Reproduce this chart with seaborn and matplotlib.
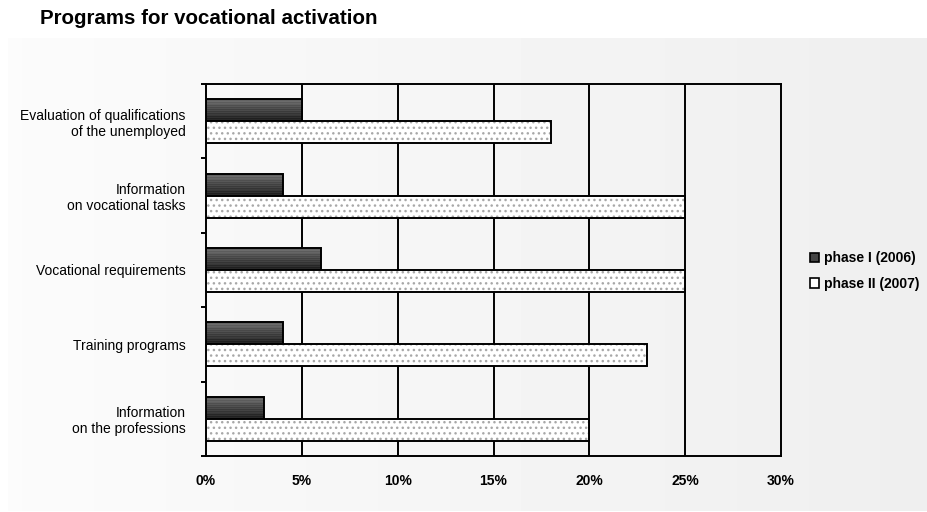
import numpy as np
import pandas as pd
import matplotlib
matplotlib.use("Agg")
import matplotlib.pyplot as plt
from matplotlib.patches import Patch, Rectangle
from matplotlib.ticker import FixedLocator
import seaborn as sns

# ---- data -------------------------------------------------------------
categories = [
    "Evaluation of qualifications\nof the unemployed",
    "Information\non vocational tasks",
    "Vocational requirements",
    "Training programs",
    "Information\non the professions",
]
phases = ["phase I (2006)", "phase II (2007)"]
phase1_values = [5, 4, 6, 4, 3]
phase2_values = [18, 25, 25, 23, 20]
x_ticks = [0, 5, 10, 15, 20, 25, 30]
x_tick_labels = ["0%", "5%", "10%", "15%", "20%", "25%", "30%"]
title = "Programs for vocational activation"

df = pd.DataFrame({
    "category": categories * 2,
    "phase": [phases[0]] * len(categories) + [phases[1]] * len(categories),
    "value": phase1_values + phase2_values,
})

# ---- figure -----------------------------------------------------------
sns.set_theme(style="white")
plt.rcParams["font.family"] = ["Liberation Sans", "DejaVu Sans"]
plt.rcParams["text.color"] = "black"
plt.rcParams["xtick.color"] = "black"
plt.rcParams["ytick.color"] = "black"
plt.rcParams["axes.labelcolor"] = "black"

W, H = 927, 512
fig = plt.figure(figsize=(W / 100, H / 100), dpi=100)
fig.patch.set_facecolor("white")

# soft grey panel with a left-to-right gradient
bg = fig.add_axes([8 / W, 1 - 511 / H, (W - 8) / W, (511 - 38) / H], zorder=-10)
grad = np.linspace(0.985, 0.935, 256)[None, :]
bg.imshow(grad, aspect="auto", cmap="gray", vmin=0, vmax=1, extent=[0, 1, 0, 1])
bg.set_axis_off()

ax = fig.add_axes([206 / W, 1 - 456 / H, (781 - 206) / W, (456 - 84) / H])
ax.set_facecolor("none")

sns.barplot(
    data=df, y="category", x="value", hue="phase", orient="h",
    hue_order=phases, order=categories, width=0.59,
    palette=["#333333", "white"], edgecolor="black", linewidth=1.4,
    saturation=1, legend=False, ax=ax, zorder=3,
)

ax.set_xlim(0, 30)
ax.set_ylim(len(categories) - 0.5, -0.5)

# dark bars: striped vertical shading clipped to each bar
rows = 24
shade = np.linspace(0.40, 0.10, rows)
shade[::2] += 0.05
shade = shade[:, None]
for bar in ax.containers[0]:
    x0, y0 = bar.get_x(), bar.get_y()
    w, h = bar.get_width(), bar.get_height()
    bar.set_facecolor("none")
    im = ax.imshow(shade, aspect="auto", cmap="gray", vmin=0, vmax=1,
                   extent=[x0, x0 + w, y0 + h, y0], zorder=2.5,
                   interpolation="nearest")
    im.set_clip_path(bar)

# light bars: white with a fine grey dot pattern, black outline on top
for bar in ax.containers[1]:
    bar.set_facecolor("white")
    bar.set_edgecolor("#a8a8a8")
    bar.set_hatch("...")
    bar.set_linewidth(0)
    outline = Rectangle((bar.get_x(), bar.get_y()), bar.get_width(), bar.get_height(),
                        fill=False, edgecolor="black", linewidth=1.4, zorder=3.5)
    ax.add_patch(outline)

ax.set_xlim(0, 30)
ax.set_ylim(len(categories) - 0.5, -0.5)

# vertical gridlines
for xv in x_ticks[1:-1]:
    ax.axvline(xv, color="black", linewidth=1.4, zorder=1)

for s in ax.spines.values():
    s.set_visible(True)
    s.set_color("black")
    s.set_linewidth(1.4)

ax.set_xticks(x_ticks)
ax.set_xticklabels(x_tick_labels, fontsize=10, fontweight="bold")
ax.tick_params(axis="x", length=0, pad=13, labelcolor="black")

ax.set_yticks(range(len(categories)))
ax.set_yticklabels(categories, fontsize=10)
ax.tick_params(axis="y", which="major", length=0, pad=14.5, labelcolor="black")
ax.yaxis.set_minor_locator(FixedLocator(np.arange(-0.5, len(categories), 1.0)))
ax.tick_params(axis="y", which="minor", length=3.5, width=1.4, color="black",
               direction="out", left=True)

ax.set_xlabel("")
ax.set_ylabel("")

# legend
handles = [
    Patch(facecolor="#444444", edgecolor="black", linewidth=1.2, label=phases[0]),
    Patch(facecolor="white", edgecolor="black", linewidth=1.2, label=phases[1]),
]
fig.legend(handles=handles, loc="center left", bbox_to_anchor=(797 / W, 1 - 271 / H),
           frameon=False, handlelength=0.65, handleheight=0.65, handletextpad=0.4,
           labelspacing=0.85, prop={"weight": "bold", "size": 10})

fig.text(40 / W, 1 - 18 / H, title, ha="left", va="center", fontsize=14.8,
         fontweight="bold", color="black")

fig.savefig("out.png", dpi=100)
